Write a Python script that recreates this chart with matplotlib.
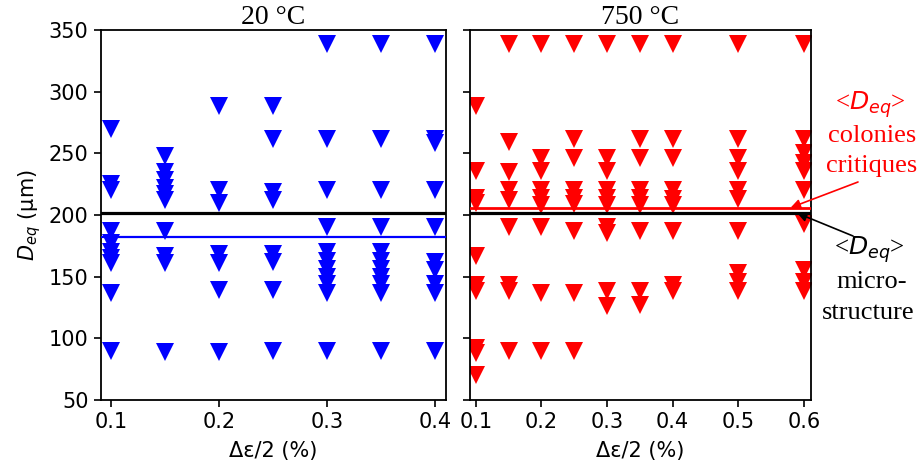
import matplotlib
matplotlib.use("Agg")
import matplotlib.pyplot as plt

# ---- data ----
strain_20 = [0.1, 0.15, 0.2, 0.25, 0.3, 0.35, 0.4]
deq_20 = [
    [270, 225, 220, 187, 177, 170, 165, 161, 137, 90],
    [248, 235, 228, 222, 217, 212, 187, 167, 161, 89],
    [288, 220, 210, 168, 161, 139, 89],
    [288, 262, 219, 212, 168, 162, 139, 90],
    [339, 262, 220, 190, 170, 163, 156, 150, 144, 137, 90],
    [339, 262, 220, 190, 170, 163, 156, 150, 144, 137, 90],
    [339, 262, 258, 220, 190, 162, 155, 144, 137, 90],
]
strain_750 = [0.1, 0.15, 0.2, 0.25, 0.3, 0.35, 0.4, 0.5, 0.6]
deq_750 = [
    [288, 236, 214, 210, 167, 143, 138, 92, 88, 70],
    [339, 259, 235, 220, 212, 190, 143, 138, 90],
    [339, 246, 236, 220, 214, 208, 190, 137, 90],
    [339, 262, 246, 220, 214, 209, 187, 137, 90],
    [339, 246, 236, 220, 214, 208, 190, 185, 138, 126],
    [339, 262, 246, 220, 214, 208, 187, 138, 127],
    [339, 262, 246, 220, 213, 208, 187, 143, 138],
    [339, 262, 246, 236, 220, 213, 187, 153, 146, 138],
    [339, 262, 250, 242, 236, 220, 193, 155, 146, 138],
]
mean_micro = 201.5
mean_20 = 182.5
mean_750 = 206.0
xticks_20 = [0.1, 0.2, 0.3, 0.4]
xticks_750 = [0.1, 0.2, 0.3, 0.4, 0.5, 0.6]
yticks = [50, 100, 150, 200, 250, 300, 350]
titles = ["20 °C", "750 °C"]

plt.rcParams['mathtext.fontset'] = 'dejavusans'
serif = ['Liberation Serif', 'DejaVu Serif']

fig = plt.figure(figsize=(9.21, 4.72), dpi=100)
W, H = 921, 472
bottom = 1 - 400 / H
height = (400 - 30) / H
ax1 = fig.add_axes([101 / W, bottom, (446 - 101) / W, height])
ax2 = fig.add_axes([470 / W, bottom, (811 - 470) / W, height], sharey=ax1)

ms = 12.5
for x, ys in zip(strain_20, deq_20):
    ax1.plot([x] * len(ys), ys, linestyle='none', marker='v', ms=ms,
             color='#0000ff', markeredgewidth=0)
for x, ys in zip(strain_750, deq_750):
    ax2.plot([x] * len(ys), ys, linestyle='none', marker='v', ms=ms,
             color='#ff0000', markeredgewidth=0)

ax1.axhline(mean_micro, color='black', lw=2.3, zorder=3)
ax1.axhline(mean_20, color='#0000ff', lw=1.6, zorder=3)
ax2.axhline(mean_750, color='#ff0000', lw=2.0, zorder=3)
ax2.axhline(mean_micro, color='black', lw=2.3, zorder=3)

ax1.set_xlim(0.091, 0.41)
ax2.set_xlim(0.091, 0.611)
ax1.set_ylim(50, 350)
ax1.set_yticks(yticks)
ax1.set_xticks(xticks_20)
ax2.set_xticks(xticks_750)
ax1.set_xticklabels([f"{v:.1f}" for v in xticks_20])
ax2.set_xticklabels([f"{v:.1f}" for v in xticks_750])

for ax, t in zip((ax1, ax2), titles):
    ax.tick_params(labelsize=15, length=5, width=1.2, direction='out', pad=4)
    for s in ax.spines.values():
        s.set_linewidth(1.3)
    ax.set_xlabel("Δε/2 (%)", fontsize=15, labelpad=6)
    ax.set_title(t, fontsize=20, family=serif, pad=3)
ax2.tick_params(labelleft=False)
ax1.set_ylabel("$D_{eq}$ (µm)", fontsize=15, labelpad=4)

# annotations
fig.text(870 / W, 1 - 105 / H, "<$D_{eq}$>", color='#ff0000', fontsize=18,
         family=serif, ha='center', va='center')
fig.text(872 / W, 1 - 136 / H, "colonies", color='#ff0000', fontsize=19,
         family=serif, ha='center', va='center')
fig.text(872 / W, 1 - 166 / H, "critiques", color='#ff0000', fontsize=19,
         family=serif, ha='center', va='center')
fig.text(869 / W, 1 - 250 / H, "<$D_{eq}$>", color='black', fontsize=18,
         family=serif, ha='center', va='center')
fig.text(872 / W, 1 - 282 / H, "micro-", color='black', fontsize=19,
         family=serif, ha='center', va='center')
fig.text(868 / W, 1 - 313 / H, "structure", color='black', fontsize=19,
         family=serif, ha='center', va='center')

ax2.annotate("", xy=(0.58, mean_750), xycoords='data',
             xytext=(858, H - 182), textcoords='figure pixels',
             arrowprops=dict(arrowstyle='-|>', color='#ff0000', lw=1.2,
                             mutation_scale=14, shrinkA=0, shrinkB=0),
             annotation_clip=False)
ax2.annotate("", xy=(0.59, mean_micro), xycoords='data',
             xytext=(853, H - 236), textcoords='figure pixels',
             arrowprops=dict(arrowstyle='-|>', color='black', lw=1.2,
                             mutation_scale=14, shrinkA=0, shrinkB=0),
             annotation_clip=False)

fig.savefig("out.png", dpi=100, facecolor='white')
